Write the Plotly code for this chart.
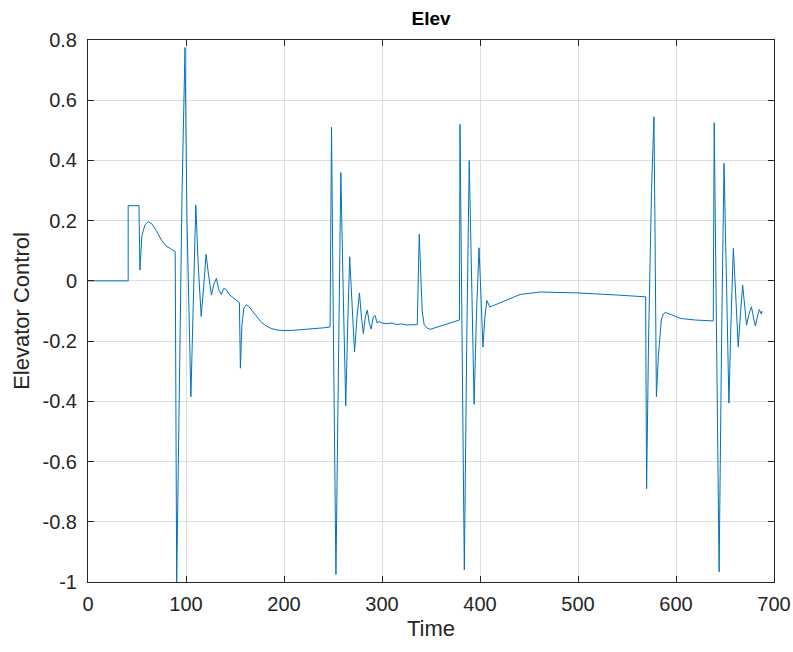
import plotly.graph_objects as go

### ----- Data (time, elevator control) ----- ###

time = [0, 41, 41, 52, 53, 55, 58, 61.5, 65, 70, 75, 80, 85, 89,
        90.5, 93, 96, 99, 101, 105, 108, 110, 112.5, 115.5, 118, 120.5, 123, 126,
        128.5, 131, 133.5, 136, 138.5, 141.5, 144, 146.6, 149, 152, 154.5, 155.5,
        157, 159, 161.5, 164, 168, 172, 177, 182, 187, 193, 200, 210, 220, 230, 240, 247,
        248.5, 250.5, 253, 255.5, 258, 260.5, 263, 265, 267, 269.5, 272, 274.5, 277,
        279, 281, 283, 285, 287, 289, 291, 293, 295, 297, 300, 305, 310, 315, 320,
        325, 330, 336, 338, 339.5, 341, 343, 346, 349, 352, 358, 365, 372, 379,
        379.6, 381.5, 384, 386.5, 389, 391.5, 394, 396.5, 399, 401, 403, 405, 407,
        410, 415, 420, 430, 441, 461, 500, 540, 569,
        570, 572, 575, 577.5, 578.5, 580, 582, 585, 587, 589, 595, 605, 620, 638,
        639, 641, 644, 646.5, 649, 651.5, 654, 656, 658.5, 661, 663.5, 666, 668,
        670, 672, 674.5, 677, 679, 681, 683, 685, 687, 688]

elev = [0, 0, 0.25, 0.25, 0.036, 0.15, 0.185, 0.197, 0.19, 0.165, 0.135, 0.115, 0.105, 0.097,
        -1.0, -0.45, 0.3, 0.775, 0.2, -0.385, 0.0, 0.252, 0.05, -0.118, -0.02, 0.088, 0.02, -0.047,
        -0.01, 0.008, -0.03, -0.045, -0.025, -0.03, -0.045, -0.052, -0.058, -0.065, -0.072, -0.29,
        -0.15, -0.09, -0.079, -0.085, -0.102, -0.12, -0.138, -0.15, -0.158, -0.163, -0.165, -0.164,
        -0.162, -0.159, -0.156, -0.153,
        0.51, -0.2, -0.975, -0.3, 0.36, -0.05, -0.415, -0.15, 0.08, -0.08, -0.235, -0.12, -0.04,
        -0.12, -0.175, -0.12, -0.097, -0.14, -0.16, -0.12, -0.115, -0.14, -0.135, -0.14, -0.142,
        -0.14, -0.145, -0.143, -0.146, -0.146, -0.145, 0.155, 0.0, -0.1, -0.145, -0.157, -0.161,
        -0.158, -0.152, -0.145, -0.138, -0.13,
        0.52, -0.1, -0.96, -0.2, 0.40, 0.0, -0.41, -0.1, 0.11, -0.05, -0.22, -0.12, -0.065,
        -0.087, -0.08, -0.072, -0.06, -0.045, -0.037, -0.04, -0.047, -0.053,
        -0.69, -0.2, 0.3, 0.545, 0.2, -0.385, -0.25, -0.13, -0.11, -0.105, -0.112, -0.125, -0.13, -0.133,
        0.525, -0.1, -0.966, -0.2, 0.39, 0.0, -0.406, -0.15, 0.108, -0.05, -0.219, -0.1, -0.014,
        -0.08, -0.147, -0.11, -0.086, -0.12, -0.15, -0.12, -0.095, -0.11, -0.1]

x_ticks = [0, 100, 200, 300, 400, 500, 600, 700]
y_ticks = [-1, -0.8, -0.6, -0.4, -0.2, 0, 0.2, 0.4, 0.6, 0.8]
y_tick_text = ["-1", "-0.8", "-0.6", "-0.4", "-0.2", "0", "0.2", "0.4", "0.6", "0.8"]

### ----- Figure ----- ###

fig = go.Figure()
fig.add_scatter(x=time, y=elev, mode="lines", line=dict(color="#0072BD", width=1), showlegend=False)

axis_style = dict(showline=True, linecolor="#262626", linewidth=1, mirror="ticks",
                  ticks="inside", ticklen=6, tickcolor="#262626", automargin=False,
                  showgrid=True, gridcolor="#dedede", gridwidth=1, zeroline=False,
                  tickfont=dict(family="Liberation Sans", size=20, color="#262626"))

fig.update_xaxes(range=[0, 700], tickvals=x_ticks, ticktext=[str(v) for v in x_ticks],
                 ticklabelstandoff=4,
                 title=dict(text="Time", font=dict(family="Liberation Sans", size=22, color="#262626"), standoff=6),
                 **axis_style)
fig.update_yaxes(range=[-1, 0.8], tickvals=y_ticks, ticktext=y_tick_text,
                 ticklabelstandoff=6,
                 title=dict(text="Elevator Control", font=dict(family="Liberation Sans", size=22, color="#262626"), standoff=6),
                 **axis_style)

fig.update_layout(
    width=793, height=652,
    margin=dict(l=88, r=19, t=40, b=70),
    paper_bgcolor="white", plot_bgcolor="white",
    title=dict(text="<b>Elev</b>", x=0.5, xanchor="center", xref="paper", y=0.972, yanchor="middle",
               font=dict(family="Liberation Sans", size=19, color="#000000")),
)

# page body has an 8px default margin; drop it so the figure sits at the window's corner
fig.write_html("out.html", config={"displayModeBar": False},
               post_script="document.body.style.margin = '0';")
